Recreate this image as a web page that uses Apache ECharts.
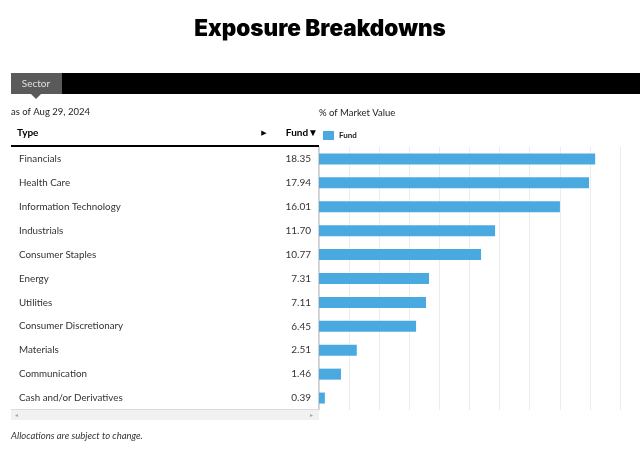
<!DOCTYPE html>
<html>
<head>
<meta charset="utf-8">
<style>html,body{margin:0;padding:0;background:#fff;}#c{width:640px;height:451px;}</style>
<script src="https://cdn.jsdelivr.net/npm/echarts@6/dist/echarts.min.js"></script>
</head>
<body>
<div id="c"></div>
<script>
var categories = ['Financials','Health Care','Information Technology','Industrials','Consumer Staples','Energy','Utilities','Consumer Discretionary','Materials','Communication','Cash and/or Derivatives'];
var fundValues = [18.35, 17.94, 16.01, 11.70, 10.77, 7.31, 7.11, 6.45, 2.51, 1.46, 0.39];
var xTicks = {min: 0, max: 20, interval: 2};
var seriesName = 'Fund';

var chart = echarts.init(document.getElementById('c'), null, {renderer: 'canvas'});
var FONT = 'Lato, "Noto Sans", sans-serif';
var valueLabels = fundValues.map(function (v) { return v.toFixed(2); });

chart.setOption({
  animation: false,
  backgroundColor: '#fff',
  textStyle: {fontFamily: FONT},
  title: {
    text: 'Exposure Breakdowns', left: 315, top: 13, textAlign: 'center',
    textStyle: {fontFamily: 'Inter, sans-serif', fontWeight: 900, fontSize: 22.5, color: '#000'}
  },
  legend: {
    data: [seriesName], left: 323, top: 131, padding: 0, itemWidth: 11, itemHeight: 9, itemGap: 4,
    icon: 'rect',
    textStyle: {fontSize: 8, fontWeight: 'bold', color: '#222', fontFamily: FONT}
  },
  grid: {left: 319, right: 20, top: 147, bottom: 41, containLabel: false},
  xAxis: {
    type: 'value', min: xTicks.min, max: xTicks.max, interval: xTicks.interval,
    axisLabel: {show: false}, axisTick: {show: false}, axisLine: {show: false},
    splitLine: {show: true, lineStyle: {color: '#ececec', width: 1}}
  },
  yAxis: [
    {
      type: 'category', data: categories, inverse: true,
      axisLine: {show: true, lineStyle: {color: '#d8d8d8', width: 1}},
      axisTick: {show: false},
      axisLabel: {align: 'left', margin: 300, fontSize: 9.8, color: '#333', fontFamily: FONT}
    },
    {
      type: 'category', data: valueLabels, inverse: true, position: 'left', offset: 0,
      axisLine: {show: false}, axisTick: {show: false},
      axisLabel: {align: 'right', margin: 8, fontSize: 10, color: '#333', fontFamily: FONT}
    }
  ],
  series: [{
    name: seriesName, type: 'bar', data: fundValues, barWidth: 11,
    itemStyle: {color: '#4aaae0'}
  }],
  graphic: [
    {type: 'rect', shape: {x: 11, y: 73, width: 629, height: 21}, style: {fill: '#000'}},
    {type: 'rect', shape: {x: 11, y: 73, width: 51, height: 21}, style: {fill: '#5a5a5a'}},
    {type: 'polygon', shape: {points: [[31, 94], [41, 94], [36, 99]]}, style: {fill: '#5a5a5a'}},
    {type: 'text', x: 36, y: 84, style: {text: 'Sector', fill: '#e0e0e0', fontSize: 10, fontFamily: FONT, align: 'center', verticalAlign: 'middle'}},
    {type: 'text', x: 11, y: 112, style: {text: 'as of Aug 29, 2024', fill: '#222', fontSize: 9.5, fontFamily: FONT, verticalAlign: 'middle'}},
    {type: 'text', x: 319, y: 113, style: {text: '% of Market Value', fill: '#222', fontSize: 9.5, fontFamily: FONT, verticalAlign: 'middle'}},
    {type: 'text', x: 17, y: 133, style: {text: 'Type', fill: '#000', fontSize: 10, fontWeight: 'bold', fontFamily: FONT, verticalAlign: 'middle'}},
    {type: 'text', x: 264, y: 133, style: {text: '\u25B6', fill: '#000', fontSize: 7, fontFamily: 'DejaVu Sans', align: 'center', verticalAlign: 'middle'}},
    {type: 'text', x: 318, y: 133, style: {text: 'Fund\u25BC', fill: '#000', fontSize: 10, fontWeight: 'bold', fontFamily: FONT, align: 'right', verticalAlign: 'middle'}},
    {type: 'rect', shape: {x: 11, y: 145, width: 308, height: 2}, style: {fill: '#000'}},
    {type: 'line', shape: {x1: 318.5, y1: 147, x2: 318.5, y2: 409}, style: {stroke: '#d0d0d0', lineWidth: 1}},
    {type: 'rect', shape: {x: 11, y: 409, width: 308, height: 11}, style: {fill: '#f1f1f1'}},
    {type: 'line', shape: {x1: 11, y1: 409.5, x2: 319, y2: 409.5}, style: {stroke: '#dcdcdc', lineWidth: 1}},
    {type: 'text', x: 15, y: 415, style: {text: '\u25C2', fill: '#aaa', fontSize: 6, fontFamily: 'DejaVu Sans', verticalAlign: 'middle'}},
    {type: 'text', x: 313, y: 415, style: {text: '\u25B8', fill: '#aaa', fontSize: 6, fontFamily: 'DejaVu Sans', align: 'right', verticalAlign: 'middle'}},
    {type: 'text', x: 11, y: 436, style: {text: 'Allocations are subject to change.', fill: '#333', fontSize: 9.5, fontStyle: 'italic', fontFamily: FONT, verticalAlign: 'middle'}}
  ]
});
</script>
</body>
</html>
